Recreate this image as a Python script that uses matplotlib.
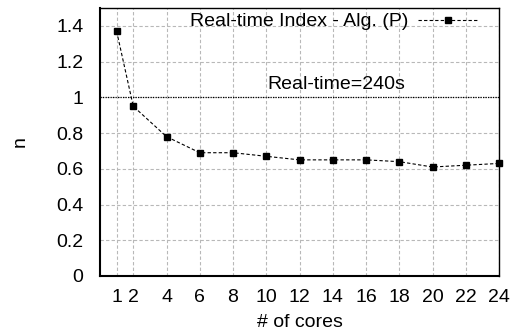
import matplotlib
matplotlib.use('Agg')
import matplotlib.pyplot as plt

# data
cores = [1, 2, 4, 6, 8, 10, 12, 14, 16, 18, 20, 22, 24]
index_p = [1.37, 0.95, 0.78, 0.69, 0.69, 0.67, 0.65, 0.65, 0.65, 0.64, 0.61, 0.62, 0.63]
xticks = [1, 2, 4, 6, 8, 10, 12, 14, 16, 18, 20, 22, 24]
yticks = [0, 0.2, 0.4, 0.6, 0.8, 1.0, 1.2, 1.4]
ytick_labels = ['0', '0.2', '0.4', '0.6', '0.8', '1', '1.2', '1.4']
realtime_level = 1.0

plt.rcParams['font.family'] = ['Liberation Sans', 'DejaVu Sans']
fs = 14

fig = plt.figure(figsize=(5.13, 3.36), dpi=100)
ax = fig.add_axes([100/513, 60/336, 399/513, 268/336])

ax.set_xlim(0, 24)
ax.set_ylim(0, 1.5)
ax.set_xticks(xticks)
ax.set_yticks(yticks)
ax.set_yticklabels(ytick_labels)
ax.tick_params(labelsize=fs, length=0, pad=12)
ax.tick_params(axis='x', pad=9)

ax.grid(True, color='#b8b8b8', linestyle=(0, (3, 2)), linewidth=0.8)
ax.set_axisbelow(True)

for side in ['left', 'bottom']:
    ax.spines[side].set_linewidth(1.5)
for side in ['top', 'right']:
    ax.spines[side].set_linewidth(1.0)

ax.axhline(realtime_level, color='black', linestyle=(0, (1, 1)), linewidth=0.9)
ax.text(10.05, 1.07, 'Real-time=240s', fontsize=fs, va='center')

ax.plot(cores, index_p, color='black', linestyle=(0, (3, 2)), linewidth=0.8,
        marker='s', markersize=5, label='Real-time Index - Alg. (P)', clip_on=False)

leg = ax.legend(loc='upper right', frameon=False, fontsize=fs, handlelength=3.1,
                bbox_to_anchor=(477/499 + 0.005, 1.0), bbox_transform=ax.transAxes,
                borderaxespad=0.0, borderpad=0.25, handletextpad=0.5,
                markerfirst=False)

ax.set_xlabel('# of cores', fontsize=fs, labelpad=6)
ax.set_ylabel('n', fontsize=fs, labelpad=20)

fig.savefig('out.png', dpi=100)
